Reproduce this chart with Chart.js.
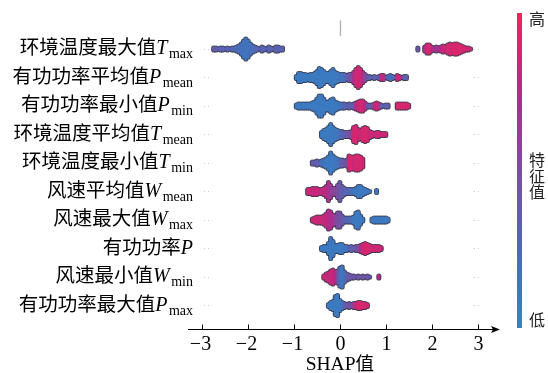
<!DOCTYPE html>
<html>
<head>
<meta charset="utf-8">
<script src="https://cdn.jsdelivr.net/npm/chart.js@4"></script>
<style>
  html, body { margin: 0; padding: 0; background: #fff; }
  #wrap { width: 548px; height: 373px; position: relative; }
</style>
</head>
<body>
<div id="wrap"><canvas id="shapChart" width="548" height="373"></canvas></div>
<script>
const featureNames = ['环境温度最大值', '有功功率平均值', '有功功率最小值', '环境温度平均值', '环境温度最小值',
  '风速平均值', '风速最大值', '有功功率', '风速最小值', '有功功率最大值'];
const featureSymbols = ['T', 'P', 'P', 'T', 'T', 'W', 'W', 'P', 'W', 'P'];
const featureSubs = ['max', 'mean', 'min', 'mean', 'min', 'mean', 'max', '', 'min', 'max'];
const xTicks = [-3, -2, -1, 0, 1, 2, 3];
const xTitle = 'SHAP';
const xTitleCjk = '值';
const barLabels = ['高', '特征值', '低'];

// beeswarm bins: [SHAP value, dots in bin, feature value 0..1]
const swarmTmax = [
  [-2.75, 2, .35], [-2.70, 2, .35], [-2.65, 1, .35], [-2.60, 2, .3], [-2.55, 2, .3], [-2.50, 1, .3],
  [-2.45, 2, .3], [-2.40, 1, .3], [-2.35, 2, .25], [-2.30, 2, .25], [-2.25, 3, .22], [-2.20, 4, .2],
  [-2.15, 6, .18], [-2.10, 9, .15], [-2.05, 11, .15], [-2.00, 9, .15], [-1.95, 6, .18], [-1.90, 4, .2],
  [-1.85, 3, .25], [-1.80, 2, .28], [-1.75, 1, .28], [-1.70, 3, .3], [-1.65, 2, .28], [-1.60, 1, .28],
  [-1.55, 3, .3], [-1.50, 2, .3], [-1.45, 1, .3], [-1.40, 3, .3], [-1.35, 3, .3], [-1.30, 2, .3], [-1.25, 2, .3],
  [1.70, 2, .4], [1.85, 3, .75], [1.90, 5, .85], [1.95, 5, .9], [2.00, 3, .8], [2.05, 2, .7], [2.10, 3, .65],
  [2.15, 2, .7], [2.20, 3, .75], [2.25, 4, .85], [2.30, 3, .8], [2.35, 5, .9], [2.40, 6, .9], [2.45, 5, .85],
  [2.50, 6, .92], [2.55, 6, .9], [2.60, 5, .92], [2.65, 4, .9], [2.70, 3, .88], [2.75, 2, .88], [2.80, 2, .85], [2.85, 1, .85]
];
const swarmPmean = [
  [-0.95, 2, .1], [-0.90, 5, .1], [-0.85, 5, .1], [-0.80, 4, .1], [-0.75, 4, .1], [-0.70, 3, .1], [-0.65, 4, .1],
  [-0.60, 4, .1], [-0.55, 5, .1], [-0.50, 7, .1], [-0.45, 10, .1], [-0.40, 9, .1], [-0.35, 7, .1], [-0.30, 5, .1],
  [-0.25, 5, .1], [-0.20, 7, .1], [-0.15, 9, .1], [-0.10, 6, .1], [-0.05, 5, .12], [0.00, 4, .15], [0.05, 4, .15],
  [0.10, 4, .2], [0.15, 3, .35], [0.20, 4, .4], [0.25, 4, .5], [0.30, 6, .7], [0.35, 9, .85], [0.40, 11, .88],
  [0.45, 9, .85], [0.50, 6, .75], [0.55, 4, .5], [0.60, 2, .45], [0.65, 2, .35], [0.70, 1, .3], [0.75, 2, .3],
  [0.80, 1, .3], [0.85, 2, .35], [0.90, 3, .8], [0.95, 3, .8], [1.00, 1, .5], [1.05, 2, .25], [1.10, 3, .2],
  [1.15, 2, .25], [1.20, 1, .3], [1.25, 3, .85], [1.30, 2, .85], [1.35, 1, .7], [1.40, 2, .3], [1.45, 2, .3]
];
const swarmPmin = [
  [-0.95, 2, .1], [-0.90, 3, .1], [-0.85, 3, .1], [-0.80, 3, .1], [-0.75, 3, .1], [-0.70, 3, .1], [-0.65, 3, .1],
  [-0.60, 4, .1], [-0.55, 5, .1], [-0.50, 8, .1], [-0.45, 11, .1], [-0.40, 11, .1], [-0.35, 8, .1], [-0.30, 5, .1],
  [-0.25, 5, .1], [-0.20, 7, .1], [-0.15, 8, .1], [-0.10, 5, .1], [-0.05, 4, .12], [0.00, 3, .15], [0.05, 3, .18],
  [0.10, 3, .3], [0.15, 2, .3], [0.20, 3, .35], [0.25, 2, .3], [0.30, 3, .4], [0.35, 4, .75], [0.40, 5, .85],
  [0.45, 6, .88], [0.50, 6, .85], [0.55, 4, .75], [0.60, 2, .4], [0.65, 2, .35], [0.70, 2, .4], [0.75, 3, .8],
  [0.80, 4, .85], [0.85, 3, .8], [0.90, 2, .35], [0.95, 1, .3], [1.00, 2, .3], [1.05, 2, .35],
  [1.25, 3, .9], [1.30, 3, .9], [1.35, 3, .9], [1.40, 3, .9], [1.45, 3, .9], [1.50, 2, .85]
];
const swarmTmean = [
  [-0.40, 3, .1], [-0.35, 5, .1], [-0.30, 6, .1], [-0.25, 8, .1], [-0.20, 11, .1], [-0.15, 8, .1], [-0.10, 6, .12],
  [-0.05, 5, .15], [0.00, 4, .2], [0.05, 4, .3], [0.10, 3, .35], [0.15, 3, .4], [0.20, 3, .45], [0.25, 4, .6],
  [0.30, 8, .85], [0.35, 9, .9], [0.40, 6, .85], [0.45, 5, .85], [0.50, 7, .9], [0.55, 8, .9], [0.60, 7, .88],
  [0.65, 4, .85], [0.70, 3, .85], [0.75, 2, .85], [0.80, 3, .85], [0.85, 3, .85], [0.90, 2, .85], [0.95, 2, .85], [1.00, 2, .85]
];
const swarmTmin = [
  [-0.60, 2, .35], [-0.55, 2, .35], [-0.50, 3, .35], [-0.45, 2, .3], [-0.40, 3, .2], [-0.35, 4, .15], [-0.30, 5, .12],
  [-0.25, 7, .1], [-0.20, 11, .1], [-0.15, 8, .1], [-0.10, 6, .12], [-0.05, 5, .15], [0.00, 4, .3], [0.05, 4, .35],
  [0.10, 3, .4], [0.15, 4, .5], [0.20, 8, .88], [0.25, 7, .9], [0.30, 7, .85], [0.35, 8, .9], [0.40, 8, .88],
  [0.45, 7, .9], [0.50, 5, .85]
];
const swarmWmean = [
  [-0.70, 3, .85], [-0.65, 3, .85], [-0.60, 4, .85], [-0.55, 4, .8], [-0.50, 4, .85], [-0.45, 3, .8], [-0.40, 3, .8],
  [-0.35, 4, .8], [-0.30, 6, .75], [-0.25, 10, .7], [-0.20, 7, .65], [-0.15, 4, .55], [-0.10, 4, .55], [-0.05, 7, .5],
  [0.00, 10, .4], [0.05, 6, .35], [0.10, 4, .3], [0.15, 3, .3], [0.20, 3, .25], [0.25, 3, .2], [0.30, 3, .15],
  [0.35, 4, .12], [0.40, 6, .1], [0.45, 6, .1], [0.50, 4, .1], [0.55, 3, .1], [0.60, 2, .1], [0.65, 1, .1], [0.80, 2, .1]
];
const swarmWmax = [
  [-0.60, 2, .85], [-0.55, 3, .85], [-0.50, 4, .85], [-0.45, 4, .8], [-0.40, 4, .85], [-0.35, 5, .8], [-0.30, 7, .8],
  [-0.25, 10, .75], [-0.20, 9, .72], [-0.15, 6, .7], [-0.10, 5, .55], [-0.05, 8, .5], [0.00, 8, .45], [0.05, 5, .4],
  [0.10, 3, .3], [0.15, 3, .3], [0.20, 3, .25], [0.25, 3, .2], [0.30, 4, .12], [0.35, 8, .1], [0.40, 9, .1],
  [0.45, 5, .1], [0.50, 2, .1],
  [0.70, 2, .1], [0.75, 3, .1], [0.80, 3, .1], [0.85, 3, .12], [0.90, 3, .1], [0.95, 3, .1], [1.00, 3, .1], [1.05, 2, .1]
];
const swarmP = [
  [-0.40, 2, .1], [-0.35, 3, .1], [-0.30, 3, .1], [-0.25, 6, .1], [-0.20, 11, .1], [-0.15, 8, .1], [-0.10, 4, .1],
  [-0.05, 4, .1], [0.00, 5, .1], [0.05, 5, .1], [0.10, 3, .12], [0.15, 3, .15], [0.20, 2, .3], [0.25, 3, .35],
  [0.30, 2, .35], [0.35, 3, .4], [0.40, 3, .55], [0.45, 4, .65], [0.50, 5, .88], [0.55, 6, .9], [0.60, 5, .9],
  [0.65, 4, .88], [0.70, 3, .85], [0.75, 3, .88], [0.80, 3, .85], [0.85, 3, .85], [0.90, 2, .85]
];
const swarmWmin = [
  [-0.35, 2, .85], [-0.30, 4, .85], [-0.25, 5, .8], [-0.20, 7, .85], [-0.15, 8, .8], [-0.10, 6, .75], [-0.05, 7, .5],
  [0.00, 10, .2], [0.05, 11, .12], [0.10, 6, .2], [0.15, 4, .35], [0.20, 3, .4], [0.25, 2, .45], [0.30, 2, .4],
  [0.35, 1, .45], [0.40, 2, .4], [0.45, 1, .4], [0.50, 2, .45], [0.55, 1, .4], [0.60, 2, .45], [0.65, 1, .4], [0.85, 2, .75]
];
const swarmPmax = [
  [-0.25, 2, .1], [-0.20, 4, .1], [-0.15, 5, .1], [-0.10, 10, .1], [-0.05, 11, .1], [0.00, 6, .1], [0.05, 4, .15],
  [0.10, 3, .35], [0.15, 2, .4], [0.20, 3, .45], [0.25, 2, .5], [0.30, 3, .6], [0.35, 3, .85], [0.40, 4, .9],
  [0.45, 4, .9], [0.50, 3, .88], [0.55, 3, .9], [0.60, 2, .85]
];
const swarms = [swarmTmax, swarmPmean, swarmPmin, swarmTmean, swarmTmin, swarmWmean, swarmWmax, swarmP, swarmWmin, swarmPmax];

// colour ramp low -> high feature value
const rampStops = [[46, 134, 200], [80, 104, 182], [123, 78, 160], [182, 42, 135], [236, 38, 92]];

function featureColor(v) {
  const t = Math.max(0, Math.min(1, v)) * (rampStops.length - 1);
  const i = Math.min(rampStops.length - 2, Math.floor(t));
  const f = t - i;
  const a = rampStops[i], b = rampStops[i + 1];
  const c = a.map((ch, k) => Math.round(ch + (b[k] - ch) * f));
  return `rgb(${c[0]},${c[1]},${c[2]})`;
}

const DOT_GAP = 0.07; // vertical step between stacked dots, in row units
const dots = [];
const dotColors = [];
swarms.forEach((bins, row) => {
  bins.forEach(([x, n, v]) => {
    for (let k = 0; k < n; k++) {
      dots.push({ x: x, y: row + (k - (n - 1) / 2) * DOT_GAP });
      dotColors.push(featureColor(v));
    }
  });
});

const CJK = '"Noto Sans CJK SC", sans-serif';
const SERIF = '"Liberation Serif", "DejaVu Serif", serif';

const decor = {
  id: 'decor',
  beforeDatasetsDraw(chart) {
    const { ctx, scales: { x, y } } = chart;
    ctx.save();
    // faint dotted row guides at both ends
    ctx.strokeStyle = '#c8c8c8';
    ctx.lineWidth = 1;
    ctx.setLineDash([1, 3]);
    featureNames.forEach((_, row) => {
      const py = Math.round(y.getPixelForValue(row)) + 0.5;
      ctx.beginPath();
      ctx.moveTo(x.getPixelForValue(-2.96), py);
      ctx.lineTo(x.getPixelForValue(-2.78), py);
      ctx.moveTo(x.getPixelForValue(2.92), py);
      ctx.lineTo(x.getPixelForValue(3.08), py);
      ctx.stroke();
    });
    ctx.setLineDash([]);
    // zero line stub above first row
    ctx.strokeStyle = '#b0b0b0';
    ctx.lineWidth = 1.3;
    const x0 = Math.round(x.getPixelForValue(0)) + 0.5;
    ctx.beginPath();
    ctx.moveTo(x0, y.getPixelForValue(-1.0));
    ctx.lineTo(x0, y.getPixelForValue(-0.45));
    ctx.stroke();
    ctx.restore();
  },
  afterDraw(chart) {
    const { ctx, chartArea, scales: { x, y } } = chart;
    ctx.save();
    ctx.fillStyle = '#000';
    ctx.strokeStyle = '#000';

    // feature labels with italic symbol and subscript
    featureNames.forEach((name, row) => {
      const base = y.getPixelForValue(row) + 5.5;
      const right = 193;
      ctx.font = '19.5px ' + CJK;
      const wName = ctx.measureText(name).width;
      ctx.font = 'italic 20px ' + SERIF;
      const wSym = ctx.measureText(featureSymbols[row]).width;
      ctx.font = '14px ' + SERIF;
      const wSub = featureSubs[row] ? ctx.measureText(featureSubs[row]).width + 1.5 : 0;
      let px = right - wName - wSym - wSub;
      ctx.textBaseline = 'alphabetic';
      ctx.textAlign = 'left';
      ctx.font = '19.5px ' + CJK;
      ctx.fillText(name, px, base);
      px += wName;
      ctx.font = 'italic 20px ' + SERIF;
      ctx.fillText(featureSymbols[row], px, base);
      px += wSym + 1.5;
      if (featureSubs[row]) {
        ctx.font = '14px ' + SERIF;
        ctx.fillText(featureSubs[row], px, base + 4);
      }
    });

    // x axis with arrow
    const ay = Math.round(chartArea.bottom) + 0.5;
    ctx.lineWidth = 1;
    ctx.beginPath();
    ctx.moveTo(chartArea.left, ay);
    ctx.lineTo(chartArea.right - 4, ay);
    ctx.stroke();
    ctx.beginPath();
    ctx.moveTo(chartArea.right, ay);
    ctx.lineTo(chartArea.right - 9, ay - 3.5);
    ctx.lineTo(chartArea.right - 7, ay);
    ctx.lineTo(chartArea.right - 9, ay + 3.5);
    ctx.closePath();
    ctx.fill();

    ctx.font = '20px ' + SERIF;
    ctx.textAlign = 'center';
    ctx.textBaseline = 'alphabetic';
    xTicks.forEach(t => {
      const px = Math.round(x.getPixelForValue(t)) + 0.5;
      ctx.beginPath();
      ctx.moveTo(px, ay);
      ctx.lineTo(px, ay - 5);
      ctx.stroke();
      const label = t < 0 ? '\u2212' + Math.abs(t) : String(t);
      ctx.fillText(label, t < 0 ? px - 2 : px, 350);
    });

    // axis title
    ctx.font = '19.5px ' + SERIF;
    const wT = ctx.measureText(xTitle).width;
    ctx.font = '18.5px ' + CJK;
    const wC = ctx.measureText(xTitleCjk).width;
    const tx = x.getPixelForValue(0) - (wT + wC) / 2;
    ctx.textAlign = 'left';
    ctx.font = '19.5px ' + SERIF;
    ctx.fillText(xTitle, tx, 370);
    ctx.font = '18.5px ' + CJK;
    ctx.fillText(xTitleCjk, tx + wT, 370);

    // colour bar
    const grad = ctx.createLinearGradient(0, 328, 0, 13);
    rampStops.forEach((c, i) => grad.addColorStop(i / (rampStops.length - 1), `rgb(${c[0]},${c[1]},${c[2]})`));
    ctx.fillStyle = grad;
    ctx.fillRect(517, 13, 5, 315);

    ctx.fillStyle = '#222';
    ctx.font = '16px ' + CJK;
    ctx.textAlign = 'center';
    ctx.textBaseline = 'middle';
    ctx.fillText(barLabels[0], 537, 19);
    Array.from(barLabels[1]).forEach((ch, i) => ctx.fillText(ch, 537, 160 + i * 16));
    ctx.fillText(barLabels[2], 537, 320);
    ctx.restore();
  }
};

new Chart(document.getElementById('shapChart'), {
  type: 'scatter',
  data: {
    datasets: [
      {
        data: dots,
        pointRadius: 1.8,
        pointHoverRadius: 1.8,
        pointBorderWidth: 0,
        pointBackgroundColor: dotColors
      },
      {
        data: dots,
        pointRadius: 2.55,
        pointHoverRadius: 2.55,
        pointBorderWidth: 0,
        pointBackgroundColor: 'rgba(40,40,60,0.85)'
      }
    ]
  },
  options: {
    responsive: false,
    animation: false,
    events: [],
    layout: { padding: { left: 188, right: 48, top: 13, bottom: 44 } },
    plugins: { legend: { display: false }, tooltip: { enabled: false } },
    scales: {
      x: { type: 'linear', min: -3.31, max: 3.49, display: false },
      y: { type: 'linear', min: -1.263, max: 9.825, reverse: true, display: false }
    }
  },
  plugins: [decor]
});
</script>
</body>
</html>
